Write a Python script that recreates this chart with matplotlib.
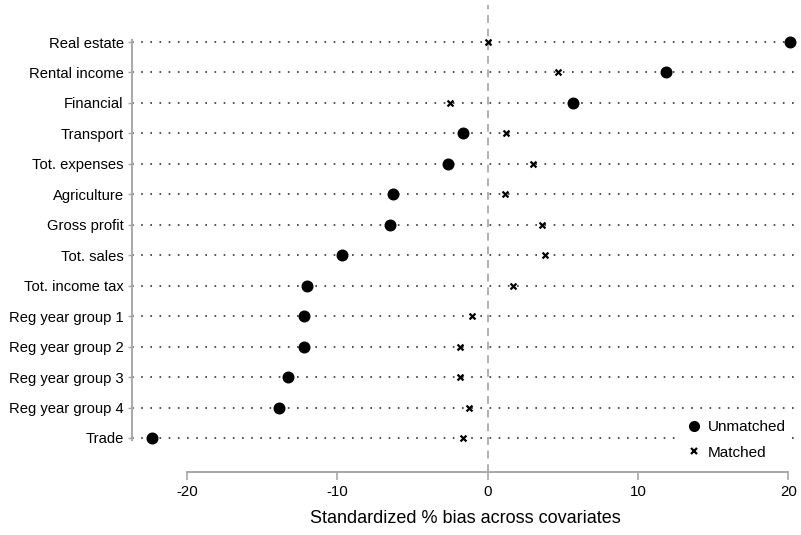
import matplotlib
matplotlib.use("Agg")
import matplotlib.pyplot as plt
from matplotlib.lines import Line2D

plt.rcParams['font.family'] = ['Liberation Sans', 'DejaVu Sans']

# covariates, top to bottom
covariates = ["Real estate", "Rental income", "Financial", "Transport", "Tot. expenses",
              "Agriculture", "Gross profit", "Tot. sales", "Tot. income tax",
              "Reg year group 1", "Reg year group 2", "Reg year group 3",
              "Reg year group 4", "Trade"]
unmatched = [20.1, 11.9, 5.7, -1.6, -2.6, -6.3, -6.5, -9.7, -12.0,
             -12.2, -12.2, -13.25, -13.9, -22.35]
matched = [0.0, 4.7, -2.5, 1.25, 3.05, 1.15, 3.6, 3.8, 1.7,
           -1.05, -1.8, -1.8, -1.25, -1.6]
xticks = [-20, -10, 0, 10, 20]

n = len(covariates)
ypos = [n - 1 - i for i in range(n)]

fig = plt.figure(figsize=(8.01, 5.35), dpi=100)
# axes: left 132px, right 798px, top 5px, bottom 472px
ax = fig.add_axes([132 / 801, 1 - 472 / 535, (798 - 132) / 801, (472 - 5) / 535])

gap = 30.46
ax.set_ylim(-(472 - 438) / gap, (n - 1) + (42 - 5) / gap)
ax.set_xlim(-23.65, 20.65)

for y in ypos:
    ax.axhline(y, color='#333333', lw=1.2, linestyle=(0, (1, 4.5)), zorder=1)

ax.axvline(0, color='#b0b0b0', lw=1.4, linestyle=(0, (4, 3)), zorder=1)

ax.scatter(unmatched, ypos, s=58, color='black', marker='o', zorder=3, label='Unmatched')
ax.scatter(matched, ypos, s=18, color='black', marker='x', linewidths=1.6, zorder=3,
           label='Matched')

ax.set_yticks(ypos)
ax.set_yticklabels(covariates, fontsize=10.6)
ax.set_xticks(xticks)
ax.set_xticklabels([str(t) for t in xticks], fontsize=10.8)
ax.set_xlabel('Standardized % bias across covariates', fontsize=13, labelpad=8)

for s in ['top', 'right']:
    ax.spines[s].set_visible(False)
ax.spines['left'].set_bounds(-0.05, n - 1 + 0.07)
ax.spines['bottom'].set_bounds(-20, 20)
ax.spines['left'].set_color('#a8a8a8')
ax.spines['bottom'].set_color('#a8a8a8')
ax.spines['left'].set_linewidth(1.4)
ax.spines['bottom'].set_linewidth(1.4)
ax.tick_params(axis='y', length=3, color='#a8a8a8', width=1, pad=3)
ax.tick_params(axis='x', length=6, color='#a8a8a8', width=1.2, pad=3)

handles = [Line2D([], [], marker='o', color='black', linestyle='None', markersize=7),
           Line2D([], [], marker='x', color='black', linestyle='None', markersize=4,
                  markeredgewidth=1.6)]
leg = ax.legend(handles, ['Unmatched', 'Matched'], loc='lower right',
                bbox_to_anchor=(1.0, 0.0), fontsize=11, frameon=True,
                handletextpad=0.3, labelspacing=0.75, borderpad=0.3, handlelength=1.2)
leg.get_frame().set_edgecolor('white')
leg.get_frame().set_facecolor('white')
leg.get_frame().set_alpha(1.0)
leg.set_zorder(5)

fig.savefig('out.png', dpi=100)
